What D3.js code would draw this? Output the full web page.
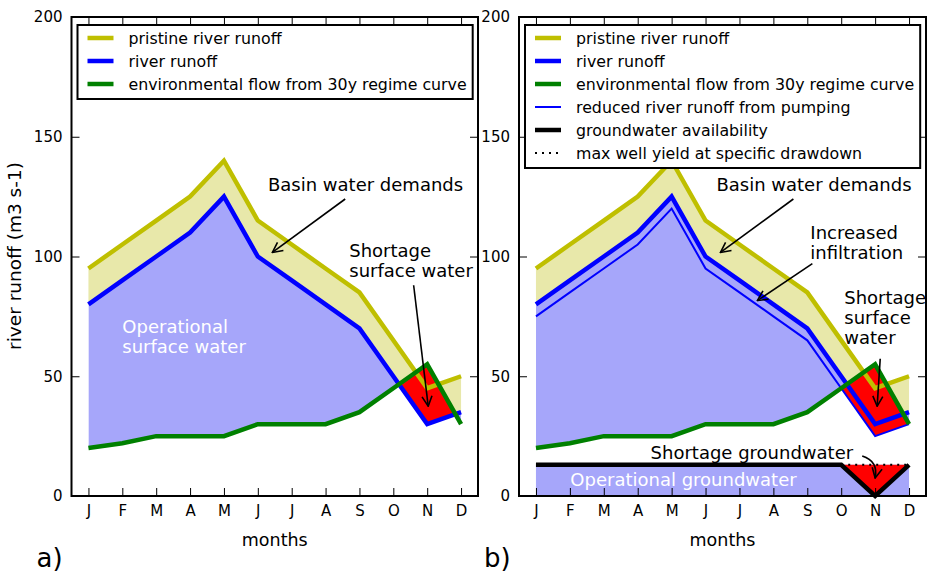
<!DOCTYPE html>
<html>
<head>
<meta charset="utf-8">
<script src="https://cdnjs.cloudflare.com/ajax/libs/d3/7.8.5/d3.min.js"></script>
<style>
  body { margin: 0; background: #fff; }
  text { font-family: "DejaVu Sans", sans-serif; }
</style>
</head>
<body>
<div id="chart"></div>
<script>
// monthly values (m3 s-1)
const months = ['J', 'F', 'M', 'A', 'M', 'J', 'J', 'A', 'S', 'O', 'N', 'D'];
const pristine = [95, 105, 115, 125, 140, 115, 105, 95, 85, 65, 45, 50];
const runoff = [80, 90, 100, 110, 125, 100, 90, 80, 70, 50, 30, 35];
const envFlow = [20, 22, 25, 25, 25, 30, 30, 30, 35, 45, 55, 30];
const reduced = [75, 85, 95, 105, 120, 95, 85, 75, 65, 45, 25, 30];
const groundwater = [13, 13, 13, 13, 13, 13, 13, 13, 13, 13, 0, 13];
const wellYield = [13, 13, 13, 13, 13, 13, 13, 13, 13, 13, 13, 13];
const shortageMonths = [9, 10, 11];
const yTicks = [0, 50, 100, 150, 200];

const legendA = ['pristine river runoff', 'river runoff', 'environmental flow from 30y regime curve'];
const legendB = legendA.concat(['reduced river runoff from pumping', 'groundwater availability',
  'max well yield at specific drawdown']);

const W = 929, H = 574;
const yellow = '#bfbf00', blue = '#0000ff', green = '#008000';
const yellowFill = '#e8e8aa', blueFill = '#a6a6fa', red = '#ff0000';

const svg = d3.select('#chart').append('svg')
  .attr('width', W)
  .attr('height', H);
const defs = svg.append('defs');

defs.append('marker')
  .attr('id', 'arrow')
  .attr('viewBox', '0 0 12 12')
  .attr('refX', 11).attr('refY', 6)
  .attr('markerWidth', 12).attr('markerHeight', 12)
  .attr('markerUnits', 'userSpaceOnUse')
  .attr('orient', 'auto')
  .append('path')
  .attr('d', 'M1,1 L11,6 L1,11')
  .attr('fill', 'none')
  .attr('stroke', '#000')
  .attr('stroke-width', 1.6);

const y = d3.scaleLinear().domain([0, 200]).range([496, 17]);
const idx = d3.range(months.length);

function drawPanel(cfg) {
  const x = d3.scaleLinear().domain([-0.5, 11.5]).range([cfg.left, cfg.right]);
  const g = svg.append('g');

  const band = (lo, hi) => d3.area().x(i => x(i)).y0(i => y(lo[i])).y1(i => y(hi[i]));
  const line = arr => d3.line().x(i => x(i)).y(i => y(arr[i]));
  const below = arr => d3.area().x(i => x(i)).y0(y(0)).y1(i => y(arr[i]));
  const above = arr => d3.area().x(i => x(i)).y0(y(200)).y1(i => y(arr[i]));

  defs.append('clipPath').attr('id', 'below' + cfg.name)
    .append('path').attr('d', below(runoff)(idx));
  defs.append('clipPath').attr('id', 'above' + cfg.name)
    .append('path').attr('d', above(cfg.pumping ? reduced : runoff)(idx));

  // fills
  g.append('path').attr('d', band(runoff, pristine)(idx)).attr('fill', yellowFill);
  g.append('path').attr('d', band(envFlow, runoff)(idx)).attr('fill', blueFill)
    .attr('clip-path', 'url(#below' + cfg.name + ')');
  g.append('path').attr('d', band(envFlow, cfg.pumping ? reduced : runoff)(idx)).attr('fill', red)
    .attr('clip-path', 'url(#above' + cfg.name + ')');

  if (cfg.pumping) {
    g.append('path')
      .attr('d', d3.area().x(i => x(i)).y0(y(0)).y1(i => y(wellYield[i]))(idx))
      .attr('fill', blueFill);
    g.append('path')
      .attr('d', band(groundwater, wellYield)(shortageMonths))
      .attr('fill', red);
  }

  // lines
  const stroke = (arr, color, w, ids) => g.append('path')
    .attr('d', line(arr)(ids || idx))
    .attr('fill', 'none')
    .attr('stroke', color)
    .attr('stroke-width', w)
    .attr('stroke-linejoin', 'miter');

  stroke(pristine, yellow, 4.5);
  stroke(runoff, blue, 4.5);
  if (cfg.pumping) stroke(reduced, blue, 2);
  stroke(envFlow, green, 4.5);
  if (cfg.pumping) {
    stroke(groundwater, '#000', 4.5);
    stroke(wellYield, '#000', 2, shortageMonths).attr('stroke-dasharray', '2,5');
  }

  // axes, ticks pointing in on all sides
  const fmtNone = () => '';
  g.append('g').attr('transform', `translate(${cfg.left},0)`)
    .call(d3.axisLeft(y).tickValues(yTicks).tickSize(-8).tickPadding(9));
  g.append('g').attr('transform', `translate(${cfg.right},0)`)
    .call(d3.axisRight(y).tickValues(yTicks).tickSize(-8).tickFormat(fmtNone));
  g.append('g').attr('transform', `translate(0,${y(0)})`)
    .call(d3.axisBottom(x).tickValues(idx).tickSize(-8).tickPadding(9).tickFormat(i => months[i]));
  g.append('g').attr('transform', `translate(0,${y(200)})`)
    .call(d3.axisTop(x).tickValues(idx).tickSize(-8).tickFormat(fmtNone));
  g.selectAll('.domain').remove();
  g.selectAll('.tick line').attr('stroke', '#000').attr('stroke-width', 1);
  g.selectAll('.tick text').attr('font-size', 15).attr('fill', '#000')
    .style('font-family', '"DejaVu Sans", sans-serif');

  g.append('rect')
    .attr('x', cfg.left).attr('y', y(200))
    .attr('width', cfg.right - cfg.left).attr('height', y(0) - y(200))
    .attr('fill', 'none').attr('stroke', '#000').attr('stroke-width', 2);

  // annotations (multi-line blocks are left aligned)
  cfg.notes.forEach(n => {
    const t = g.append('text')
      .attr('x', x(n.x)).attr('y', y(n.y))
      .attr('text-anchor', n.anchor || 'start')
      .attr('font-size', 18)
      .attr('fill', n.color || '#000');
    n.text.forEach((s, k) => t.append('tspan')
      .attr('x', x(n.x)).attr('dy', k === 0 ? '0.35em' : '1.1em').text(s));
  });
  cfg.arrows.forEach(a => {
    const x0 = x(a.from[0]), y0 = y(a.from[1]), x1 = x(a.to[0]), y1 = y(a.to[1]);
    let d = `M${x0},${y0}L${x1},${y1}`;
    if (a.rad) {
      const mx = (x0 + x1) / 2, my = (y0 + y1) / 2;
      const cx = mx + a.rad * (y1 - y0), cy = my - a.rad * (x1 - x0);
      d = `M${x0},${y0}Q${cx},${cy} ${x1},${y1}`;
    }
    g.append('path').attr('d', d)
      .attr('fill', 'none').attr('stroke', '#000').attr('stroke-width', 1.6)
      .attr('marker-end', 'url(#arrow)');
  });

  // axis titles
  g.append('text')
    .attr('x', (cfg.left + cfg.right) / 2).attr('y', 546)
    .attr('text-anchor', 'middle').attr('font-size', 17.5)
    .text('months');
  g.append('text')
    .attr('x', cfg.left - 35).attr('y', 567)
    .attr('font-size', 26)
    .text(cfg.name + ')');

  // legend
  const leg = g.append('g');
  const row0 = 38, step = 23;
  const sampleX = cfg.left + 16, textX = cfg.left + 57;
  const styles = [
    { c: yellow, w: 4.5 }, { c: blue, w: 4.5 }, { c: green, w: 4.5 },
    { c: blue, w: 2 }, { c: '#000', w: 4.5 }, { c: '#000', w: 2, dash: '2,5' }
  ];
  const box = leg.append('rect');
  let maxLen = 0;
  cfg.legend.forEach((label, k) => {
    const ly = row0 + k * step;
    const s = styles[k];
    leg.append('line')
      .attr('x1', sampleX).attr('x2', sampleX + 26)
      .attr('y1', ly).attr('y2', ly)
      .attr('stroke', s.c).attr('stroke-width', s.w)
      .attr('stroke-dasharray', s.dash || null);
    const t = leg.append('text')
      .attr('x', textX).attr('y', ly).attr('dy', '0.35em')
      .attr('font-size', 15.8)
      .text(label);
    maxLen = Math.max(maxLen, t.node().getComputedTextLength());
  });
  box.attr('x', cfg.left + 6).attr('y', row0 - 13)
    .attr('width', textX + maxLen + 6 - (cfg.left + 6))
    .attr('height', (cfg.legend.length - 1) * step + 28)
    .attr('fill', '#fff').attr('stroke', '#000').attr('stroke-width', 2);
}

drawPanel({
  name: 'a', left: 71.5, right: 478, pumping: false, legend: legendA,
  notes: [
    { text: ['Basin water demands'], x: 5.3, y: 130 },
    { text: ['Shortage', 'surface water'], x: 7.7, y: 102.4 },
    { text: ['Operational', 'surface water'], x: 1.0, y: 70.8, color: '#fff' }
  ],
  arrows: [
    { from: [7.58, 124], to: [5.43, 101.7] },
    { from: [9.6, 88], to: [10.03, 37.5] }
  ]
});

drawPanel({
  name: 'b', left: 519, right: 926, pumping: true, legend: legendB,
  notes: [
    { text: ['Basin water demands'], x: 5.32, y: 130 },
    { text: ['Increased', 'infiltration'], x: 8.09, y: 109.9 },
    { text: ['Shortage', 'surface', 'water'], x: 9.09, y: 82.8 },
    { text: ['Shortage groundwater'], x: 3.38, y: 18 },
    { text: ['Operational groundwater'], x: 4.35, y: 7, anchor: 'middle', color: '#fff' }
  ],
  arrows: [
    { from: [7.59, 124], to: [5.44, 101.7] },
    { from: [8.15, 97], to: [6.53, 81.6] },
    { from: [10.15, 57.3], to: [10.06, 37.5] },
    { from: [9.62, 16.7], to: [10.0, 7.5], rad: 0.45 }
  ]
});

// shared y label
svg.append('text')
  .attr('transform', 'translate(21,256) rotate(-90)')
  .attr('text-anchor', 'middle')
  .attr('font-size', 18.5)
  .text('river runoff (m3 s-1)');
</script>
</body>
</html>
